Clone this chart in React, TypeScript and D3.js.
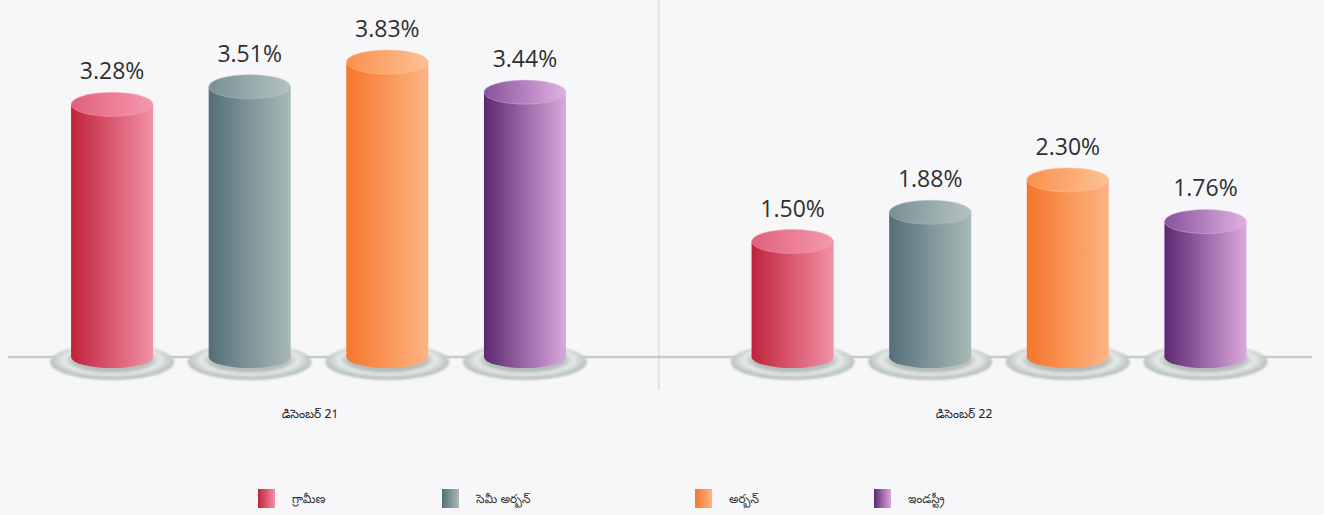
import React from 'react';
import * as d3 from 'd3';

// ---------- data ----------
const categories = ['డిసెంబర్ 21', 'డిసెంబర్ 22'];
const seriesNames = ['గ్రామీణ', 'సెమీ అర్బన్', 'అర్బన్', 'ఇండస్ట్రీ'];
const rural = [3.28, 1.5];
const semiUrban = [3.51, 1.88];
const urban = [3.83, 2.3];
const industry = [3.44, 1.76];
const seriesValues = [rural, semiUrban, urban, industry];

// ---------- styles / layout ----------
const W = 1324;
const H = 515;
const BASE_Y = 357;
const BAR_W = 82;
const RY = 12;
const bodyColors = [
  ['#bf233b', '#f291a5'],
  ['#556e78', '#a8bab7'],
  ['#f5762a', '#fcb484'],
  ['#5d2872', '#dba8dc'],
];
const topColors = [
  ['#e0607a', '#f59aae'],
  ['#7a8f95', '#b3c3c0'],
  ['#f9914d', '#fdc195'],
  ['#87529a', '#e0b2e2'],
];
const legendX = [258, 442, 695, 874];
const FONT = "'Noto Sans Telugu', 'Noto Sans', 'Open Sans', sans-serif";

export default function App() {
  const x0 = d3.scaleBand<string>().domain(categories).range([-21.75, 1339.25]).padding(0);
  const x1 = d3.scaleBand<string>().domain(seriesNames).range([65, 615.5]).padding(0);
  const y = d3.scaleLinear().domain([0, 4]).range([BASE_Y, 49]);
  const labelX = d3.scalePoint<string>().domain(categories).range([310, 964]);

  const bars: any[] = [];
  categories.forEach((c, ci) => {
    seriesNames.forEach((s, si) => {
      const v = seriesValues[si][ci];
      const cx = (x0(c) as number) + (x1(s) as number) + x1.bandwidth() / 2;
      bars.push({ c, s, si, v, cx, ty: y(v) });
    });
  });

  return (
    <svg
      width={W}
      height={H}
      style={{ position: 'absolute', left: 0, top: 0, display: 'block' }}
      fontFamily={FONT}
    >
      <defs>
        {bodyColors.map((col, i) => (
          <linearGradient key={'b' + i} id={'body' + i} x1="0" x2="1" y1="0" y2="0">
            <stop offset="0%" stopColor={col[0]} />
            <stop offset="100%" stopColor={col[1]} />
          </linearGradient>
        ))}
        {topColors.map((col, i) => (
          <linearGradient key={'t' + i} id={'top' + i} x1="0" x2="1" y1="0" y2="0">
            <stop offset="0%" stopColor={col[0]} />
            <stop offset="100%" stopColor={col[1]} />
          </linearGradient>
        ))}
        <radialGradient id="plate" cx="50%" cy="45%" r="50%">
          <stop offset="0%" stopColor="#a9b4b0" />
          <stop offset="62%" stopColor="#b6c0bc" />
          <stop offset="78%" stopColor="#e6eae8" />
          <stop offset="90%" stopColor="#cdd4d1" />
          <stop offset="100%" stopColor="#b9c2be" />
        </radialGradient>
        <filter id="blur1" x="-20%" y="-50%" width="140%" height="200%">
          <feGaussianBlur stdDeviation="0.8" />
        </filter>
      </defs>

      <rect x={0} y={0} width={W} height={H} fill="#f7f7f9" />

      {/* divider */}
      <line
        x1={x0(categories[1]) as number}
        x2={x0(categories[1]) as number}
        y1={0}
        y2={390}
        stroke="#e2e2e6"
        strokeWidth={2}
      />
      {/* baseline */}
      <line x1={8} x2={1312} y1={BASE_Y} y2={BASE_Y} stroke="#c9c9cb" strokeWidth={2.5} />

      {/* plates */}
      {bars.map((b, i) => (
        <g key={'p' + i}>
          <ellipse cx={b.cx} cy={BASE_Y + 5} rx={62} ry={18} fill="url(#plate)" filter="url(#blur1)" />
        </g>
      ))}

      {/* cylinders */}
      {bars.map((b, i) => (
        <g key={'c' + i}>
          <ellipse cx={b.cx} cy={BASE_Y} rx={BAR_W / 2} ry={RY - 1} fill={`url(#body${b.si})`} />
          <rect x={b.cx - BAR_W / 2} y={b.ty} width={BAR_W} height={BASE_Y - b.ty} fill={`url(#body${b.si})`} />
          <ellipse
            cx={b.cx}
            cy={b.ty}
            rx={BAR_W / 2}
            ry={RY}
            fill={`url(#top${b.si})`}
            stroke={topColors[b.si][1]}
            strokeOpacity={0.5}
            strokeWidth={1}
          />
          <text
            x={b.cx}
            y={b.ty - RY - 13}
            textAnchor="middle"
            fontFamily="'Open Sans', sans-serif"
            fontSize={23}
            fill="#2f2f2f"
          >
            {b.v.toFixed(2) + '%'}
          </text>
        </g>
      ))}

      {/* category labels */}
      {categories.map((c) => (
        <text key={c} x={labelX(c)} y={418} textAnchor="middle" fontSize={12} fill="#222">
          {c}
        </text>
      ))}

      {/* legend */}
      {seriesNames.map((s, i) => (
        <g key={s} transform={`translate(${legendX[i]},489)`}>
          <rect x={0} y={0} width={17} height={19} fill={`url(#body${i})`} />
          <text x={34} y={14} fontSize={12} fill="#333">
            {s}
          </text>
        </g>
      ))}
    </svg>
  );
}
